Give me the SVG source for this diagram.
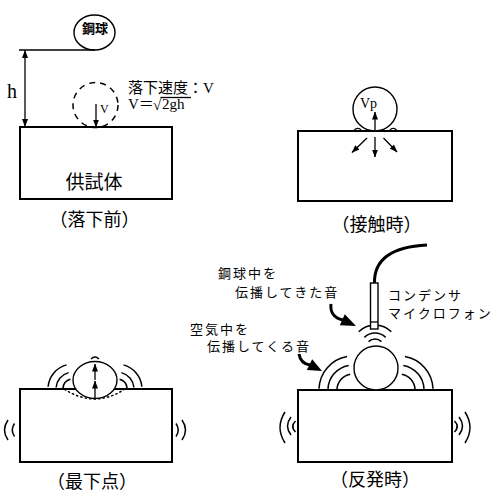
<svg xmlns="http://www.w3.org/2000/svg" width="495" height="493" viewBox="0 0 495 493">
  <defs>
    <marker id="ah" markerUnits="userSpaceOnUse" markerWidth="8" markerHeight="6" refX="7.5" refY="3" orient="auto-start-reverse" viewBox="0 0 8 6">
      <path d="M0,0 L8,3 L0,6 Z" fill="#000"/>
    </marker>
  </defs>
  <style>
    .box{fill:#fff;stroke:#000;stroke-width:2}
    .ball{fill:#fff;stroke:#000;stroke-width:1.4}
    .ln{fill:none;stroke:#000;stroke-width:1.3}
    .wave{fill:none;stroke:#000;stroke-width:1.5}
    .arr{fill:none;stroke:#000;stroke-width:1.3;marker-end:url(#ah)}
    .thick{fill:none;stroke:#000;stroke-width:3}
    .jp{font-family:"Noto Sans CJK JP",sans-serif;fill:#000}
    .cap{font-family:"Noto Sans CJK JP",sans-serif;font-size:18px;text-anchor:middle;fill:#000}
    .lbl{font-family:"Noto Sans CJK JP",sans-serif;font-size:13px;letter-spacing:2px;fill:#000}
    .ser{font-family:"Liberation Serif","Noto Sans CJK JP",serif;fill:#000}
  </style>
  <rect width="495" height="493" fill="#fff"/>

  <!-- Panel 1: before the drop -->
  <g id="p1-specimen">
    <rect class="box" x="20" y="127" width="152" height="72"/>
    <text class="jp" x="94" y="189" font-size="19" text-anchor="middle">供試体</text>
  </g>
  <g id="p1-ball">
    <ellipse class="ball" cx="94.5" cy="32.5" rx="20.5" ry="17.5"/>
    <text class="jp" x="95" y="33" font-size="13" font-weight="bold" text-anchor="middle">鋼球</text>
  </g>
  <g id="p1-ball-impact">
    <circle cx="95.5" cy="105" r="22.5" fill="none" stroke="#000" stroke-width="1.5" stroke-dasharray="6 5"/>
    <text class="ser" x="100" y="113" font-size="12">V</text>
  </g>
  <g id="p1-height">
    <text class="ser" x="7" y="98" font-size="20">h</text>
  </g>
  <g id="p1-formula">
    <text class="ser" x="128" y="93" font-size="15">落下速度：V</text>
    <text class="ser" x="128" y="109" font-size="15">V＝</text>
    <text class="ser" x="153" y="110" font-size="15">√</text>
    <text class="ser" x="162" y="109" font-size="15">2gh</text>
    <line class="ln" x1="160.5" y1="97.5" x2="191" y2="97.5"/>
  </g>
  <text id="p1-caption" class="cap" x="94.5" y="226">（落下前）</text>

  <!-- Panel 2: contact -->
  <g id="p2-specimen">
    <rect class="box" x="298" y="131" width="154" height="70"/>
  </g>
  <g id="p2-ball">
    <circle class="ball" cx="375" cy="109" r="22"/>
    <path class="ln" d="M354,131 A4,4 0 0 1 361,130"/>
    <path class="ln" d="M390,130 A4,4 0 0 1 397,131"/>
    <text class="ser" x="360" y="108" font-size="14">Vp</text>
  </g>
  <text id="p2-caption" class="cap" x="376.5" y="231">（接触時）</text>

  <!-- Panel 3: lowest point -->
  <g id="p3-specimen">
    <rect class="box" x="20" y="389" width="152" height="73"/>
    <path d="M64,389 Q95,409 125,389" fill="none" stroke="#000" stroke-width="1.4" stroke-dasharray="2.5 2"/>
  </g>
  <g id="p3-ball">
    <ellipse class="ball" cx="95" cy="380" rx="22" ry="18.5"/>
    <path class="ln" d="M91,359 Q95,355 99,359"/>
  </g>
  <g id="p3-waves">
    <path class="wave" d="M48.1,386.8 A25,25 0 0 1 66.5,364.9"/>
    <path class="wave" d="M56.1,387.5 A17,17 0 0 1 68.6,372.6"/>
    <path class="wave" d="M63,388.1 A10,10 0 0 1 70.4,379.3"/>
    <path class="wave" d="M123.5,364.9 A25,25 0 0 1 141.9,386.8"/>
    <path class="wave" d="M121.4,372.6 A17,17 0 0 1 133.9,387.5"/>
    <path class="wave" d="M119.6,379.3 A10,10 0 0 1 127,388.1"/>
    <path class="wave" d="M8,420 Q1,430 8,440"/>
    <path class="wave" d="M14.5,423.5 Q10,430 14.5,436.5"/>
    <path class="wave" d="M176,423.5 Q180.5,430 176,436.5"/>
    <path class="wave" d="M182,420 Q189,430 182,440"/>
  </g>
  <text id="p3-caption" class="cap" x="92" y="488">（最下点）</text>

  <!-- Panel 4: rebound -->
  <g id="p4-specimen">
    <rect class="box" x="298" y="390" width="154" height="72"/>
  </g>
  <g id="p4-ball">
    <circle class="ball" cx="376" cy="368" r="22"/>
  </g>
  <g id="p4-waves">
    <path class="wave" d="M319,388.8 A34,34 0 0 1 347.1,356.5"/>
    <path class="wave" d="M328,389.1 A25,25 0 0 1 348.7,365.4"/>
    <path class="wave" d="M337,389.4 A16,16 0 0 1 350.2,374.2"/>
    <path class="wave" d="M404.9,356.5 A34,34 0 0 1 433,388.8"/>
    <path class="wave" d="M403.3,365.4 A25,25 0 0 1 424,389.1"/>
    <path class="wave" d="M401.8,374.2 A16,16 0 0 1 415,389.4"/>
    <path class="wave" d="M358.7,331.7 A23,23 0 0 1 391.3,331.7"/>
    <path class="wave" d="M364.4,337.4 A15,15 0 0 1 385.6,337.4"/>
    <path class="wave" d="M368.6,341.6 A9,9 0 0 1 381.4,341.6"/>
    <path class="wave" d="M285,412 Q275,427.5 285,443"/>
    <path class="wave" d="M291,417 Q284,426 291,435"/>
    <path class="wave" d="M295.5,421 Q290,426.5 295.5,432"/>
    <path class="wave" d="M454.5,421 Q460,426.5 454.5,432"/>
    <path class="wave" d="M459,417 Q466,426 459,435"/>
    <path class="wave" d="M465,412 Q475,427.5 465,443"/>
  </g>
  <g id="p4-microphone">
    <path class="thick" d="M374.5,283 C374,262 388,247 427,245"/>
    <rect x="370.5" y="283" width="7.5" height="46" fill="#fff" stroke="#000" stroke-width="1.4"/>
    <line class="ln" x1="370.5" y1="322" x2="378" y2="322"/>
    <text class="lbl" x="388" y="300">コンデンサ</text>
    <text class="lbl" x="388" y="318">マイクロフォン</text>
  </g>
  <g id="p4-label-ball-sound">
    <text class="lbl" x="218" y="278">鋼球中を</text>
    <text class="lbl" x="235" y="297">伝播してきた音</text>
  </g>
  <g id="p4-label-air-sound">
    <text class="lbl" x="190" y="334">空気中を</text>
    <text class="lbl" x="207" y="351">伝播してくる音</text>
  </g>
  <text id="p4-caption" class="cap" x="375" y="486">（反発時）</text>

  <!-- Connectors -->
  <g id="connectors">
    <!-- drop height -->
    <line class="ln" x1="19" y1="50" x2="95" y2="50"/>
    <line class="ln" x1="25" y1="50.5" x2="25" y2="126.5" marker-start="url(#ah)" marker-end="url(#ah)"/>
    <line class="arr" x1="96" y1="104" x2="96" y2="127"/>
    <!-- contact stress directions -->
    <line class="arr" x1="375" y1="131" x2="375" y2="112"/>
    <line class="arr" x1="375" y1="137" x2="375" y2="157"/>
    <line class="arr" x1="367" y1="138" x2="352" y2="152.5"/>
    <line class="arr" x1="383.5" y1="138" x2="397" y2="152"/>
    <!-- rebound arrows in ball -->
    <line class="arr" x1="95" y1="380" x2="95" y2="364"/>
    <line class="arr" x1="95" y1="398" x2="95" y2="381"/>
    <!-- label pointers -->
    <path class="thick" d="M331,304 C330,312 334,318 343,320"/>
    <polygon points="356,326 344.8,314.3 339.8,325.3" fill="#000"/>
    <path class="thick" d="M299,354 C300,360 303,364 310,365"/>
    <polygon points="322,371 312.2,359.3 306.8,370.1" fill="#000"/>
  </g>
</svg>
